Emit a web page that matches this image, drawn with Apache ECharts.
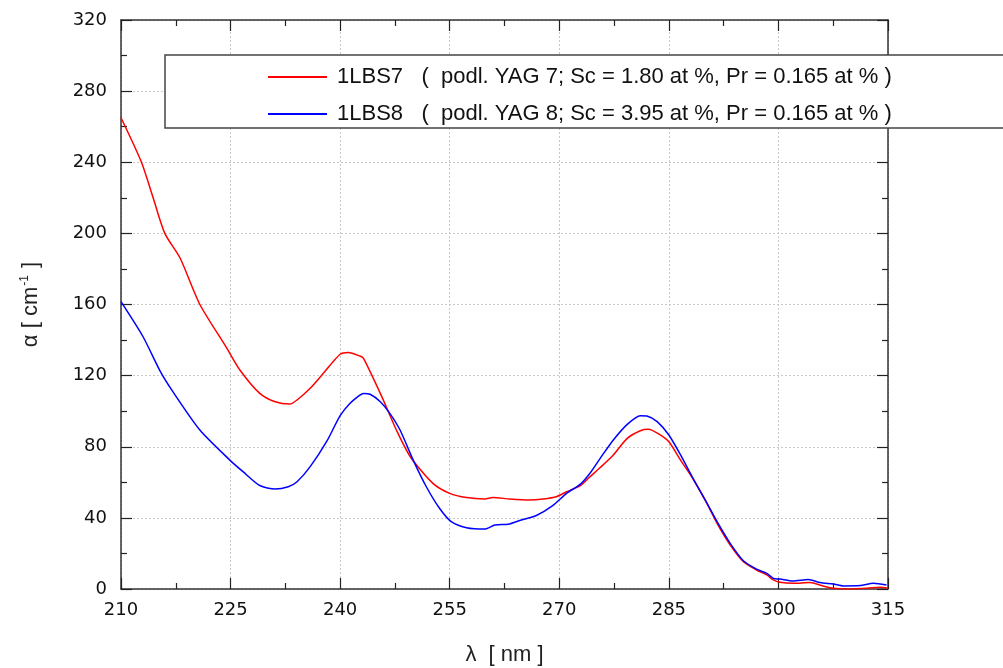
<!DOCTYPE html>
<html><head><meta charset="utf-8">
<script src="https://cdn.jsdelivr.net/npm/echarts@6/dist/echarts.min.js"></script>
<style>html,body{margin:0;padding:0;background:#fff;}#c{width:1003px;height:668px;}</style>
</head><body><div id="c"></div>
<script>
const xTicks = [210, 225, 240, 255, 270, 285, 300, 315];
const yTicks = [0, 40, 80, 120, 160, 200, 240, 280, 320];
const seriesNames = ['1LBS7   (  podl. YAG 7; Sc = 1.80 at %, Pr = 0.165 at % )', '1LBS8   (  podl. YAG 8; Sc = 3.95 at %, Pr = 0.165 at % )'];
const redX = [210,212.8,214.4,216.0,218.1,220.8,224.4,226.3,229.0,231.1,233.1,234.1,235.9,237.7,240.0,241.1,242.7,243.2,245.7,247.7,249.6,252.7,255.0,257.3,259.8,260.9,263.2,265.9,267.8,269.6,271.0,272.9,274.2,275.6,277.4,279.3,281.1,282.2,283.6,285.0,286.6,288.4,290.2,291.6,293.4,295.2,297.0,298.4,299.3,300.2,302.0,304.3,306.1,307.5,309.8,312.1,313.9,315];
const redY = [265,240,220,200,186,160,136,123,110,105.3,104,106.3,112.9,121.3,132,133,131,129.7,108.2,89.4,74.4,59.4,53.8,51.4,50.6,51.5,50.6,50.0,50.6,51.9,54.7,58.1,63.1,68.3,75.4,84.7,89,89.8,87.2,82.8,72.5,61.3,48.2,36.9,24.7,15.4,10.7,7.9,5.1,3.8,3.2,3.6,1.7,0.4,0,0.4,1.0,0.4];
const blueX = [210,213,215.3,217.1,220.8,224.9,226.7,229.0,231.1,232.9,234.1,235.9,238.2,240.0,241.3,242.7,243.2,244.1,245.5,246.8,248.2,250.0,251.8,253.6,255.2,257.3,259.8,261.2,263.0,264.8,266.8,269.1,271.0,272.9,274.2,275.6,277.4,279.3,281.1,282.0,283.4,285.0,286.6,288.4,290.2,291.6,293.4,295.2,297.0,298.4,299.3,300.2,302.0,304.1,305.7,307.5,308.9,311.2,313.0,314.8];
const blueY = [161.6,142,123,111,89.4,72.5,66,58.2,56.2,57.5,60.3,68.8,83.3,97.5,104.2,109,110,109.5,105.3,98.8,89.4,72.5,57.5,45.4,37.9,34.5,33.7,36,36.4,38.8,41.2,46.9,53.8,59,65.1,73.5,83.8,92.6,97.5,97.3,94.1,86.6,75.4,61.5,48.4,37.9,25.7,15.9,11.2,8.8,6,5.6,4.5,5.4,3.6,2.8,1.7,1.9,3.2,2.2];

const chart = echarts.init(document.getElementById('c'), null, {renderer:'canvas'});
const FONT = 'Liberation Sans';
const TICKFONT = 'DejaVu Sans';
const axisLine = {show:true, onZero:false, lineStyle:{color:'#333', width:1.5}};
const tick = {show:true, inside:true, length:11, lineStyle:{color:'#222', width:1.2}};
const minor = {show:true, splitNumber:2, length:6, lineStyle:{color:'#222', width:1.2}};
const xCommon = {type:'value', min:xTicks[0], max:xTicks[xTicks.length-1], interval:15, axisLine, axisTick:tick, minorTick:minor};
const yCommon = {type:'value', min:yTicks[0], max:yTicks[yTicks.length-1], interval:40, axisLine, axisTick:tick, minorTick:minor};
chart.setOption({
  animation:false,
  backgroundColor:'#fff',
  grid:{left:121, right:115, top:20, bottom:79, containLabel:false, outerBoundsMode:'none'},
  xAxis:[
    Object.assign({}, xCommon, {position:'bottom', name:'λ  [ nm ]', nameLocation:'middle', nameGap:55,
      nameTextStyle:{fontFamily:FONT, fontSize:22, color:'#222'},
      axisLabel:{fontFamily:TICKFONT, fontSize:18, color:'#111', margin:12},
      splitLine:{show:true, lineStyle:{color:'#c8c8c8', type:[2,2], width:1}}}),
    Object.assign({}, xCommon, {position:'top', axisLabel:{show:false}, splitLine:{show:false}})
  ],
  yAxis:[
    Object.assign({}, yCommon, {position:'left', name:'{a|α [ cm}{s|-1}{a| ]}', nameLocation:'middle', nameGap:78, nameRotate:90,
      nameTextStyle:{rich:{a:{fontFamily:FONT, fontSize:22, color:'#222'}, s:{fontFamily:FONT, fontSize:12, color:'#222', verticalAlign:'top', padding:[0,1,12,1]}}},
      axisLabel:{fontFamily:TICKFONT, fontSize:18, color:'#111', margin:14},
      splitLine:{show:true, lineStyle:{color:'#c8c8c8', type:[2,2], width:1}}}),
    Object.assign({}, yCommon, {position:'right', axisLabel:{show:false}, splitLine:{show:false}})
  ],
  graphic:[{type:'rect', z:10, shape:{x:165, y:55, width:860, height:73}, style:{fill:'#fff', stroke:'#444', lineWidth:1.5}}],
  legend:{z:20, orient:'vertical', left:263, top:61, itemWidth:59, itemHeight:2, itemGap:15, icon:'rect',
    textStyle:{fontFamily:FONT, fontSize:22, color:'#111', padding:[0,0,0,5]}, data:seriesNames},
  series:[
    {name:seriesNames[0], type:'line', symbol:'none', smooth:0.25, data:redX.map((x,i)=>[x, redY[i]]), lineStyle:{color:'#ff0000', width:1.5}, itemStyle:{color:'#ff0000'}},
    {name:seriesNames[1], type:'line', symbol:'none', smooth:0.25, data:blueX.map((x,i)=>[x, blueY[i]]), lineStyle:{color:'#0000ff', width:1.5}, itemStyle:{color:'#0000ff'}}
  ]
});
</script></body></html>
